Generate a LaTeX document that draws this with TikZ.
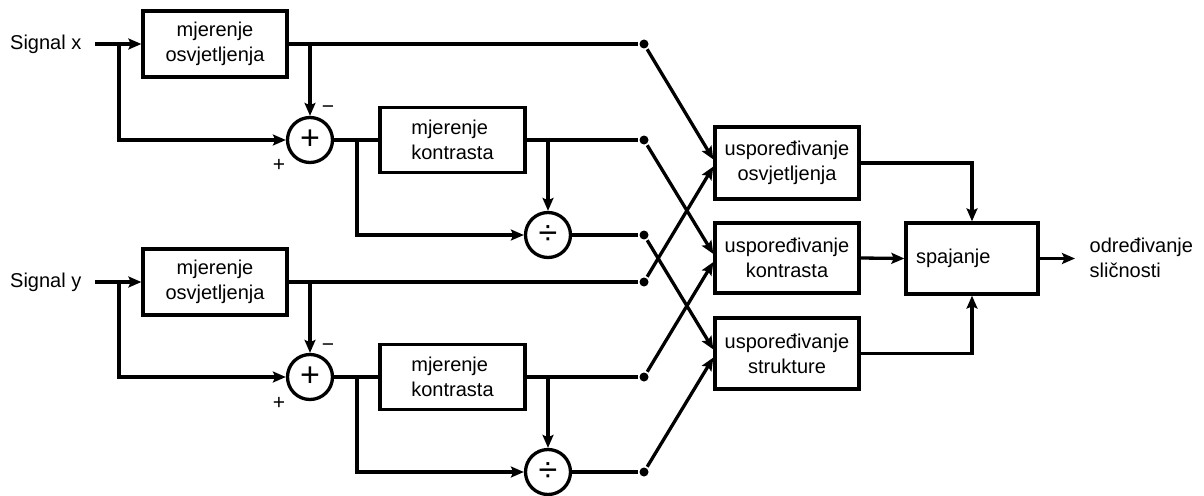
\documentclass[tikz,border=0pt]{standalone}
\usepackage{fontspec}
\setmainfont{Liberation Sans}
\usetikzlibrary{arrows.meta,calc}
\begin{document}
\begin{tikzpicture}[x=1pt,y=-1pt,
  line width=3.3pt,
  >={Stealth[length=13pt,width=11pt,inset=2.5pt]},
  blk/.style={draw,rectangle,inner sep=0pt,align=center,font=\fontsize{20}{25}\selectfont},
  sumc/.style={draw,circle,minimum size=45pt,inner sep=0pt,font=\fontsize{34}{34}\selectfont},
  dot/.style={circle,fill,inner sep=0pt,minimum size=9pt},
  lab/.style={font=\fontsize{20}{25}\selectfont,inner sep=0pt,align=left},
  sgn/.style={font=\fontsize{21}{21}\selectfont,inner sep=0pt}]
\useasboundingbox (0,0) rectangle (1204,495);

% upper branch (signal x)
\node[lab,anchor=east] (sx) at (83,44) {Signal x};
\node[blk,minimum width=144pt,minimum height=66pt] (bx1) at (215,44) {mjerenje\\osvjetljenja};
\node[sumc] (c1) at (310,140) {+};
\node[blk,minimum width=145pt,minimum height=65pt,align=left] (kx) at (452.5,140) {mjerenje\\kontrasta};
\node[sumc] (d1) at (548,235) {÷};
\node[sgn] (m1) at (328,110) {−};
\node[sgn] (pl1) at (279,165) {+};

% lower branch (signal y)
\node[lab,anchor=east] (sy) at (83,282) {Signal y};
\node[blk,minimum width=144pt,minimum height=66pt] (by1) at (215,282) {mjerenje\\osvjetljenja};
\node[sumc] (c2) at (310,377) {+};
\node[blk,minimum width=145pt,minimum height=65pt,align=left] (ky) at (452.5,377) {mjerenje\\kontrasta};
\node[sumc] (d2) at (548,472) {÷};
\node[sgn] (m2) at (328,348) {−};
\node[sgn] (pl2) at (279,403) {+};

% dots
\node[dot] (p1) at (644,44) {};
\node[dot] (p2) at (644,140) {};
\node[dot] (p3) at (644,235) {};
\node[dot] (p4) at (644,282) {};
\node[dot] (p5) at (644,377) {};
\node[dot] (p6) at (644,472) {};

% comparison blocks
\node[blk,minimum width=144pt,minimum height=72pt] (uo) at (787,163) {uspoređivanje\\osvjetljenja};
\node[blk,minimum width=144pt,minimum height=70pt] (uk) at (787,258) {uspoređivanje\\kontrasta};
\node[blk,minimum width=144pt,minimum height=71pt] (us) at (787,353.5) {uspoređivanje\\strukture};
\node[blk,minimum width=132pt,minimum height=71pt,align=left,text width=112pt] (sp) at (972,258.5) {spajanje};
\node[lab,anchor=west] (out) at (1088,258) {određivanje\\sličnosti};
\coordinate (oend) at (1075,258.5);

% junctions
\coordinate (jx1) at (119,44);
\coordinate (jx2) at (310,44);
\coordinate (jx3) at (357,140);
\coordinate (jx4) at (548,140);
\coordinate (jy1) at (119,282);
\coordinate (jy2) at (310,282);
\coordinate (jy3) at (357,377);
\coordinate (jy4) at (548,377);

% connectors x
\draw[->,shorten <=12pt] (sx.east) -- (bx1.west);
\draw[->] (jx1) |- (c1.west);
\draw (bx1.east) -- (p1);
\draw[->] (jx2) -- (c1.north);
\draw (c1.east) -- (kx.west);
\draw[->] (jx3) |- (d1.west);
\draw (kx.east) -- (p2);
\draw[->] (jx4) -- (d1.north);
\draw (d1.east) -- (p3);

% connectors y
\draw[->,shorten <=12pt] (sy.east) -- (by1.west);
\draw[->] (jy1) |- (c2.west);
\draw (by1.east) -- (p4);
\draw[->] (jy2) -- (c2.north);
\draw (c2.east) -- (ky.west);
\draw[->] (jy3) |- (d2.west);
\draw (ky.east) -- (p5);
\draw[->] (jy4) -- (d2.north);
\draw (d2.east) -- (p6);

% diagonals
\draw[->] (p1) -- ($(uo.west)+(0,-3.5)$);
\draw[->] (p4) -- ($(uo.west)+(0,3.5)$);
\draw[->] (p2) -- ($(uk.west)+(0,-4)$);
\draw[->] (p5) -- ($(uk.west)+(0,4)$);
\draw[->] (p3) -- ($(us.west)+(0,-4)$);
\draw[->] (p6) -- ($(us.west)+(0,4)$);

% merging
\draw[->] (uo.east) -| (sp.north);
\draw[->] (uk.east) -- (sp.west);
\draw[->] (us.east) -| (sp.south);
\draw[->] (sp.east) -- (oend);
\end{tikzpicture}
\end{document}
